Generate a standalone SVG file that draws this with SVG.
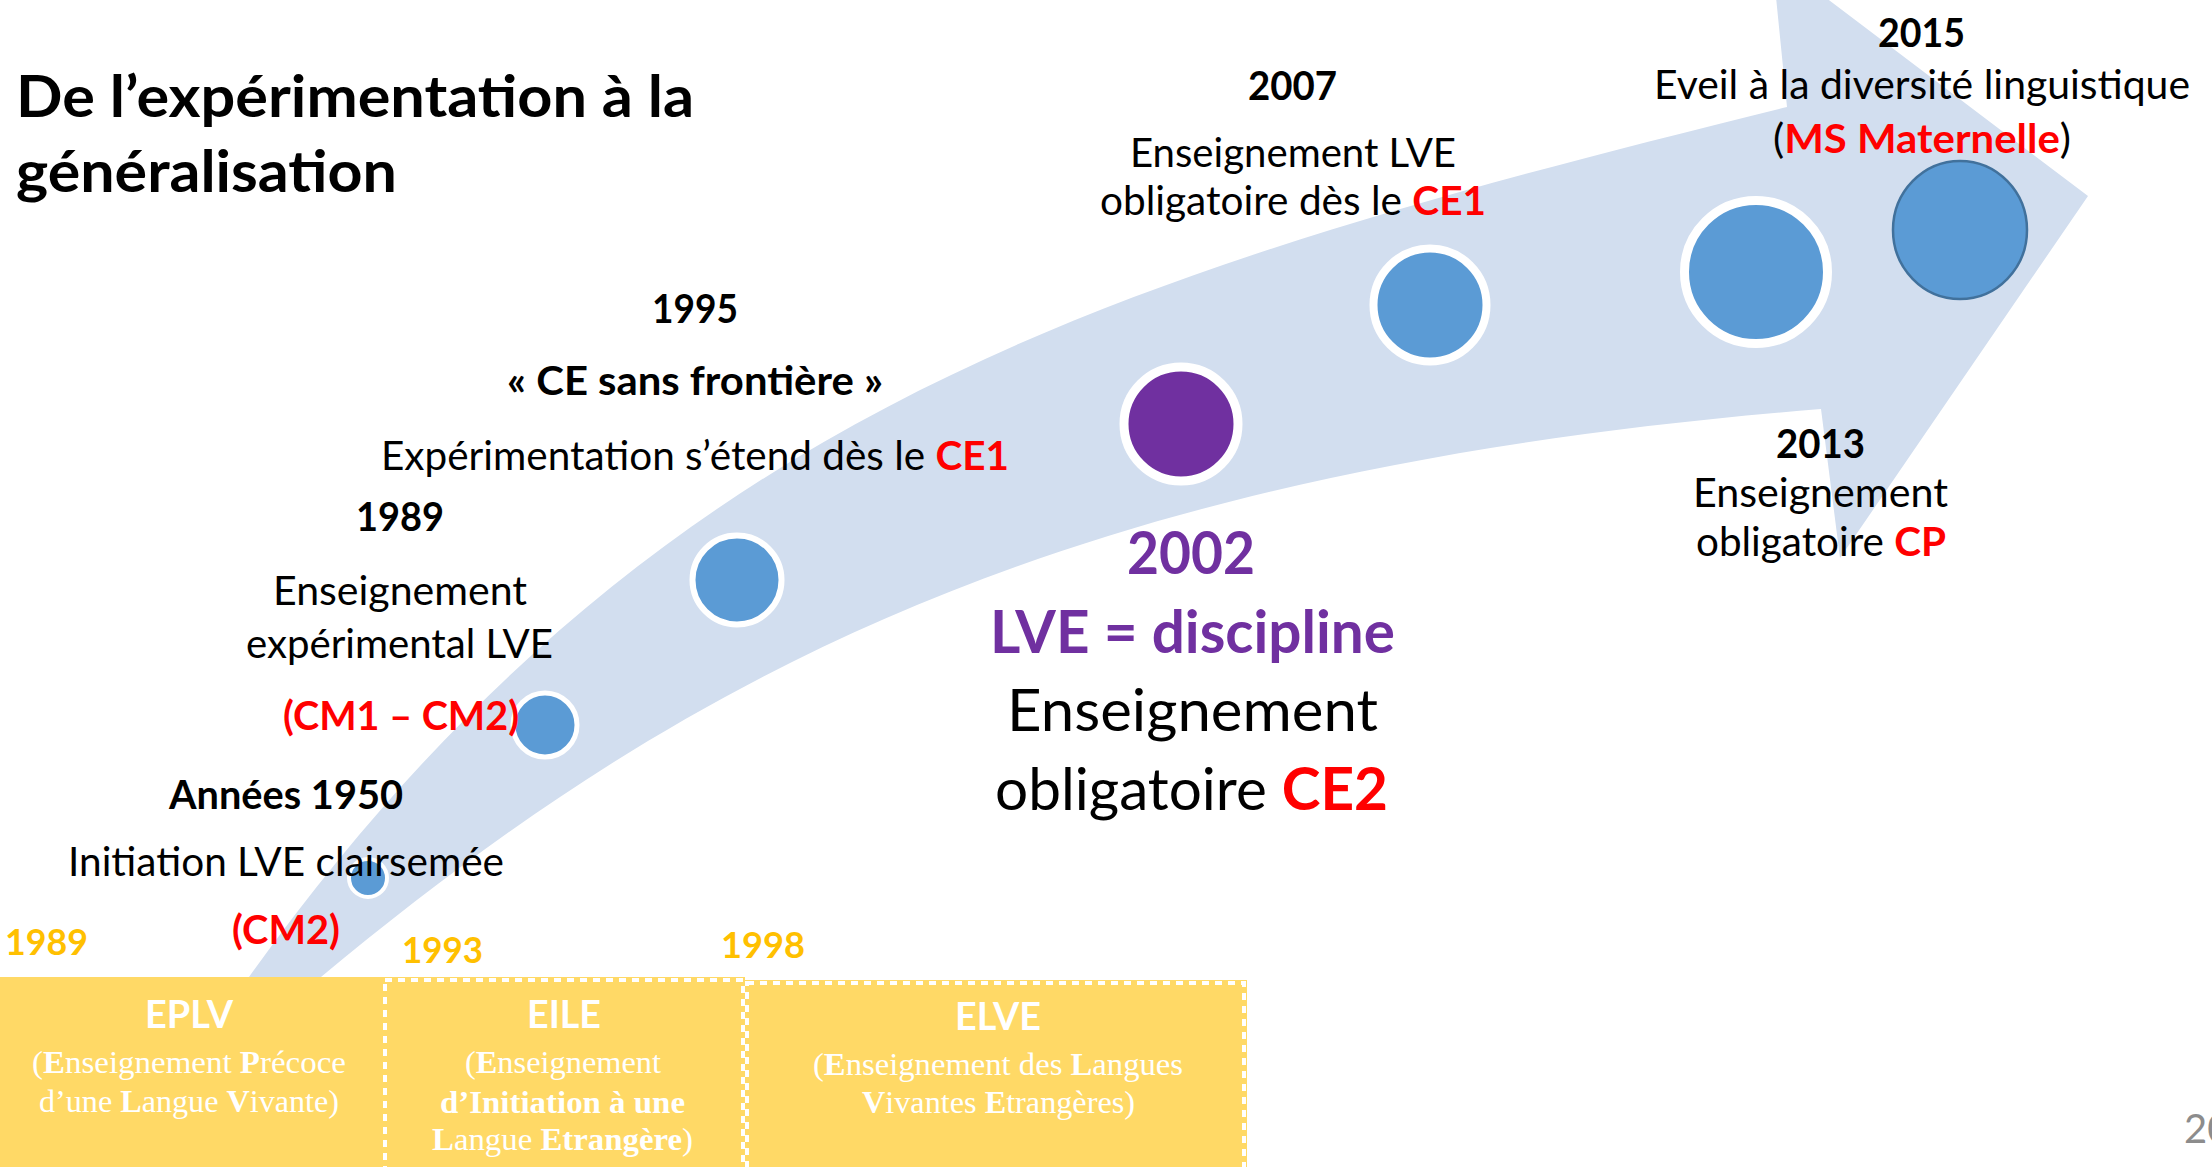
<svg xmlns="http://www.w3.org/2000/svg" width="2212" height="1167" viewBox="0 0 2212 1167">
<style>
text{font-family:Lato,Carlito,'Liberation Sans',sans-serif;fill:#000}
.b{font-weight:700}
.sm{font-size:40.5px}
.big{font-size:59px}
.ttl{font-size:57px;font-weight:700}
.red{fill:#FF0000;font-weight:700}
.pur{fill:#7030A0;font-weight:700}
.gold{fill:#FFC000;font-weight:700;font-size:37px}
.bx{fill:#fff;font-weight:700;font-size:39px}
.ser{font-family:'Liberation Serif','Times New Roman',serif;fill:#fff;font-size:32px}
.sb{font-weight:700}
.dot{fill:#5B9BD5;stroke:#fff}
.ybox{fill:#FFD966}
.dash{fill:none;stroke:#fff;stroke-width:4;stroke-dasharray:7 6}
</style>
<rect width="2212" height="1167" fill="#fff"/>
<g id="title">
<text class="ttl" x="16" y="117" textLength="678" lengthAdjust="spacingAndGlyphs">De l’expérimentation à la</text>
<text class="ttl" x="16" y="192" textLength="381" lengthAdjust="spacingAndGlyphs">généralisation</text>
</g>
<g id="connectors">
<path d="M233 1000 L249 977 C655 410 1108 275 1787 107 L1772 -43 L2088 196 L1840 558 L1821 409 C1071 469 690.6 669.8 321 977 L293 1000 Z" fill="#D2DEEF"/>
</g>
<g id="node-1950">
<circle class="dot" cx="368" cy="878" r="19" stroke-width="4"/>
<text class="sm b" x="169" y="809" textLength="234" lengthAdjust="spacingAndGlyphs">Années 1950</text>
<text class="sm" x="68" y="876" textLength="436" lengthAdjust="spacingAndGlyphs">Initiation LVE clairsemée</text>
<text class="sm red" x="232" y="944" textLength="108" lengthAdjust="spacingAndGlyphs">(CM2)</text>
</g>
<g id="node-1989">
<circle class="dot" cx="545" cy="725" r="32" stroke-width="5"/>
<text class="sm b" x="356" y="531" textLength="88" lengthAdjust="spacingAndGlyphs">1989</text>
<text class="sm" x="273" y="605" textLength="254" lengthAdjust="spacingAndGlyphs">Enseignement</text>
<text class="sm" x="246" y="658" textLength="307" lengthAdjust="spacingAndGlyphs">expérimental LVE</text>
<text class="sm red" x="283" y="730" textLength="236" lengthAdjust="spacingAndGlyphs">(CM1 – CM2)</text>
</g>
<g id="node-1995">
<circle class="dot" cx="737" cy="580" r="44.5" stroke-width="6"/>
<text class="sm b" x="652" y="323" textLength="86" lengthAdjust="spacingAndGlyphs">1995</text>
<text class="sm b" x="507" y="395" textLength="376" lengthAdjust="spacingAndGlyphs">« CE sans frontière »</text>
<text class="sm" x="381" y="470" textLength="628" lengthAdjust="spacingAndGlyphs">Expérimentation s’étend dès le <tspan class="red">CE1</tspan></text>
</g>
<g id="node-2002">
<circle cx="1181" cy="424" r="57" fill="#7030A0" stroke="#fff" stroke-width="9"/>
<text class="big pur" x="1127" y="574" textLength="128" lengthAdjust="spacingAndGlyphs">2002</text>
<text class="big pur" x="990" y="653" textLength="405" lengthAdjust="spacingAndGlyphs">LVE = discipline</text>
<text class="big" x="1007" y="731" textLength="371" lengthAdjust="spacingAndGlyphs">Enseignement</text>
<text class="big" x="995" y="810" textLength="393" lengthAdjust="spacingAndGlyphs">obligatoire <tspan class="red">CE2</tspan></text>
</g>
<g id="node-2007">
<circle class="dot" cx="1430" cy="305" r="56.5" stroke-width="8"/>
<text class="sm b" x="1248" y="100" textLength="89" lengthAdjust="spacingAndGlyphs">2007</text>
<text class="sm" x="1130" y="167" textLength="326" lengthAdjust="spacingAndGlyphs">Enseignement LVE</text>
<text class="sm" x="1100" y="215" textLength="386" lengthAdjust="spacingAndGlyphs">obligatoire dès le <tspan class="red">CE1</tspan></text>
</g>
<g id="node-2013">
<circle class="dot" cx="1756" cy="272" r="71.5" stroke-width="9"/>
<text class="sm b" x="1776" y="458" textLength="89" lengthAdjust="spacingAndGlyphs">2013</text>
<text class="sm" x="1693" y="507" textLength="255" lengthAdjust="spacingAndGlyphs">Enseignement</text>
<text class="sm" x="1696" y="556" textLength="250" lengthAdjust="spacingAndGlyphs">obligatoire <tspan class="red">CP</tspan></text>
</g>
<g id="node-2015">
<ellipse cx="1960" cy="230" rx="67" ry="69" fill="#5B9BD5" stroke="#41719C" stroke-width="2.5"/>
<text class="sm b" x="1878" y="47" textLength="87" lengthAdjust="spacingAndGlyphs">2015</text>
<text class="sm" x="1654" y="99" textLength="536" lengthAdjust="spacingAndGlyphs">Eveil à la diversité linguistique</text>
<text class="sm" x="1773" y="153" textLength="298" lengthAdjust="spacingAndGlyphs">(<tspan class="red">MS Maternelle</tspan>)</text>
</g>
<g id="period-eplv">
<rect class="ybox" x="0" y="977" width="384" height="190"/>
<text class="gold" x="5" y="955" textLength="83" lengthAdjust="spacingAndGlyphs">1989</text>
<text class="bx" x="145" y="1028" textLength="88" lengthAdjust="spacingAndGlyphs">EPLV</text>
<text class="ser" x="32" y="1073" textLength="314" lengthAdjust="spacingAndGlyphs">(<tspan class="sb">E</tspan>nseignement <tspan class="sb">P</tspan>récoce</text>
<text class="ser" x="39" y="1112" textLength="300" lengthAdjust="spacingAndGlyphs">d’une <tspan class="sb">L</tspan>angue <tspan class="sb">V</tspan>ivante)</text>
</g>
<g id="period-eile">
<rect class="ybox" x="383" y="977" width="362" height="190"/>
<rect class="dash" x="385" y="980" width="358" height="200"/>
<text class="gold" x="402" y="963" textLength="81" lengthAdjust="spacingAndGlyphs">1993</text>
<text class="bx" x="527" y="1028" textLength="74" lengthAdjust="spacingAndGlyphs">EILE</text>
<text class="ser" x="465" y="1073" textLength="196" lengthAdjust="spacingAndGlyphs">(<tspan class="sb">E</tspan>nseignement</text>
<text class="ser sb" x="440" y="1113" textLength="245" lengthAdjust="spacingAndGlyphs">d’Initiation à une</text>
<text class="ser" x="432" y="1150" textLength="261" lengthAdjust="spacingAndGlyphs"><tspan class="sb">L</tspan>angue <tspan class="sb">Etrangère</tspan>)</text>
</g>
<g id="period-elve">
<rect class="ybox" x="745" y="980" width="502" height="187"/>
<rect class="dash" x="747" y="983" width="497" height="200"/>
<text class="gold" x="721" y="958" textLength="84" lengthAdjust="spacingAndGlyphs">1998</text>
<text class="bx" x="955" y="1030" textLength="86" lengthAdjust="spacingAndGlyphs">ELVE</text>
<text class="ser" x="813" y="1075" textLength="370" lengthAdjust="spacingAndGlyphs">(<tspan class="sb">E</tspan>nseignement des <tspan class="sb">L</tspan>angues</text>
<text class="ser" x="862" y="1113" textLength="273" lengthAdjust="spacingAndGlyphs"><tspan class="sb">V</tspan>ivantes <tspan class="sb">E</tspan>trangères)</text>
</g>
<g id="page-number">
<text x="2184" y="1143" font-size="40" style="fill:#8C8C8C">20</text>
</g>
</svg>
